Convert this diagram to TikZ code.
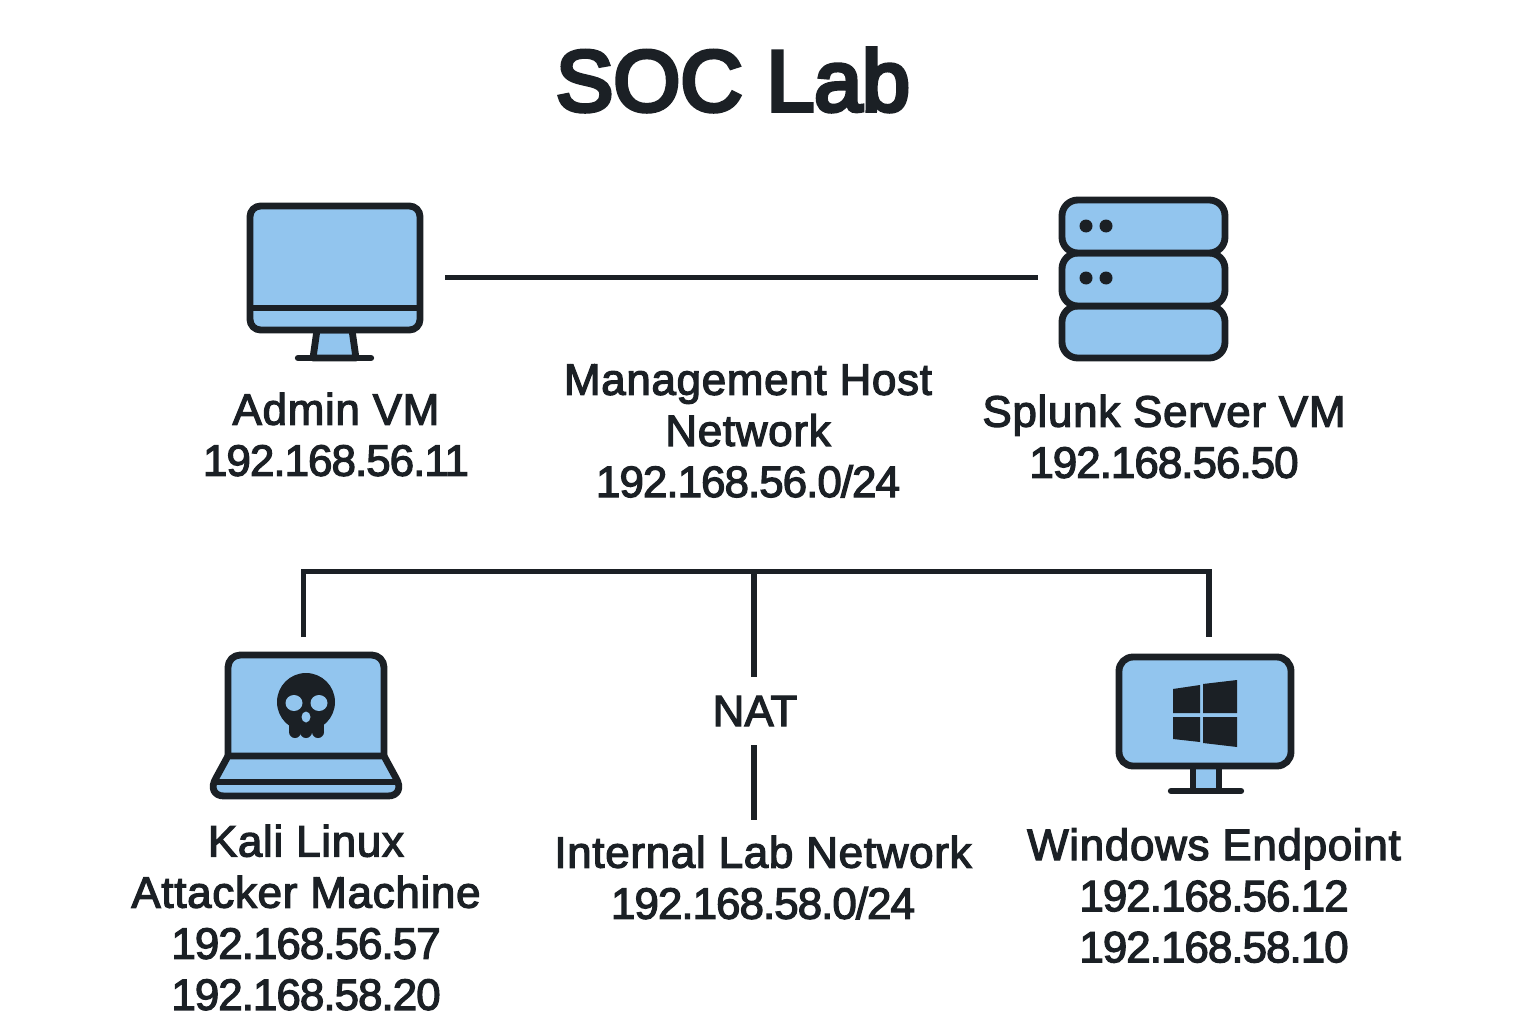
\documentclass[tikz,border=0pt]{standalone}
\usepackage{fontspec}
\setmainfont{Liberation Sans}[FakeBold=2.8]
\newfontfamily\titlefont{Liberation Sans}[FakeBold=5]
\newcommand\ipline[1]{{\addfontfeature{LetterSpace=-2.2}#1}}
\newcommand\nameline[1]{{\addfontfeature{LetterSpace=1.6}#1}}
\definecolor{iconblue}{HTML}{92C5EE}
\definecolor{inkdark}{HTML}{1B2025}
\tikzset{
  icon/.style={draw=inkdark,line width=3.9pt,fill=iconblue,line join=round},
  wire/.style={draw=inkdark,line width=2.9pt},
  foot/.style={draw=inkdark,line width=3.6pt,line cap=round},
  caption/.style={align=center,text=inkdark,font=\fontsize{25}{29.1}\selectfont,inner sep=0pt}
}
\begin{document}
\begin{tikzpicture}[x=0.02cm,y=-0.02cm]
\useasboundingbox (0,0) rectangle (1536,1024);
\fill[white] (0,0) rectangle (1536,1024);
\node (title) at (733,80) [text=inkdark,inner sep=0pt,font=\titlefont\fontsize{49}{56}\selectfont] {SOC Lab};

% admin monitor
\draw[icon] (317,330) -- (313,358) -- (356,358) -- (352,330) -- cycle;
\draw[foot] (298,358) -- (371,358);
\draw[icon,rounded corners=6] (250,206) rectangle (420,330);
\draw[icon] (250,308) -- (420,308);

% splunk server
\foreach \top/\bot in {306/358,253/306,200/253}
  \draw[icon,rounded corners=9] (1062,\top) rectangle (1225,\bot);
\foreach \y in {226,278}
  \foreach \x in {1086,1106}
    \fill[inkdark] (\x,\y) circle [radius=6.5];

% kali laptop
\draw[icon,rounded corners=7] (228,756) -- (228,655) -- (384,655) -- (384,756);
\draw[icon] (228,756) -- (216,778) .. controls (210,788) and (214,796) .. (224,796) -- (388,796) .. controls (398,796) and (402,788) .. (396,778) -- (384,756) -- cycle;
\draw[icon] (215,782) -- (397,782);
\fill[inkdark] (306,702) circle [radius=29];
\fill[inkdark] (289,715) rectangle (324,732);
\foreach \x in {295,306,318}
  \fill[inkdark] (\x,732) circle [radius=6];
\foreach \x in {294,319}
  \fill[iconblue] (\x,703) ellipse [x radius=8.5,y radius=8];
\fill[iconblue] (306,717) ellipse [x radius=4.5,y radius=5.5];

% windows monitor
\draw[icon] (1193,766) rectangle (1219,791);
\draw[foot] (1171,791) -- (1241,791);
\draw[icon,rounded corners=8] (1119,657) rectangle (1291,766);
\fill[inkdark] (1173,689) -- (1200,685) -- (1200,713) -- (1173,713) -- cycle;
\fill[inkdark] (1203,684) -- (1237,680) -- (1237,713) -- (1203,713) -- cycle;
\fill[inkdark] (1173,717) -- (1200,717) -- (1200,742) -- (1173,739) -- cycle;
\fill[inkdark] (1203,717) -- (1237,717) -- (1237,747) -- (1203,743) -- cycle;

% labels
\node (adminlabel) at (336,434.5) [caption] {\nameline{Admin VM}\\\ipline{192.168.56.11}};
\node (mgmtlabel) at (748,431) [caption] {\nameline{Management Host}\\\nameline{Network}\\\ipline{192.168.56.0/24}};
\node (splunklabel) at (1164,436.5) [caption] {\nameline{Splunk Server VM}\\\ipline{192.168.56.50}};
\node (kalilabel) at (306,917.5) [caption] {\nameline{Kali Linux}\\\nameline{Attacker Machine}\\\ipline{192.168.56.57}\\\ipline{192.168.58.20}};
\node (natlabel) at (755,711) [caption,minimum height=1.36cm] {NAT};
\node (lablabel) at (763,877.5) [caption] {\nameline{Internal Lab Network}\\\ipline{192.168.58.0/24}};
\node (winlabel) at (1214,895.5) [caption] {\nameline{Windows Endpoint}\\\ipline{192.168.56.12}\\\ipline{192.168.58.10}};

% connectors
\coordinate (adminport) at (445,277.5);
\coordinate (splunkport) at (1038,277.5);
\coordinate (kaliport) at (303.5,637);
\coordinate (winport) at (1209,637);
\coordinate (natbus) at (754,571.5);
\coordinate (labport) at (754,820);
\draw[wire] (adminport) -- (splunkport);
\draw[wire] (kaliport) -- (kaliport |- natbus) -- (winport |- natbus) -- (winport);
\draw[wire] (natbus) -- (natbus |- natlabel.north);
\draw[wire] (natbus |- natlabel.south) -- (labport);
\end{tikzpicture}
\end{document}
